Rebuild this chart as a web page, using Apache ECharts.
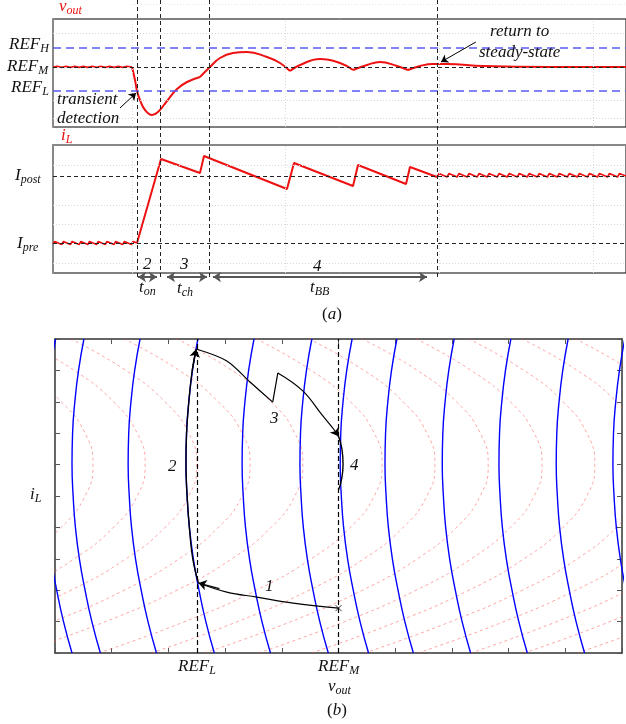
<!DOCTYPE html>
<html>
<head>
<meta charset="utf-8">
<script src="https://cdn.jsdelivr.net/npm/echarts@6/dist/echarts.min.js"></script>
<style>
  html, body { margin: 0; padding: 0; background: #fff; }
  #chart { width: 626px; height: 724px; }
</style>
</head>
<body>
<div id="chart"></div>
<script>
// ---------- (a) time-domain waveforms, time axis 0..100 ----------
// event times: transient detection, end of t_on, end of t_ch, back to steady state
const tEvents = [14.66, 18.67, 27.2, 67.0];
const tGrid = [13.8, 40.5, 67.4, 94.2];
const vGrid = [9, 27, 94];
const iGrid = [10, 49, 68, 108];
const refH = 79, refM = 60, refL = 36;
const iPostLevel = 97, iPreLevel = 30;

// v_out pieces (split at the cusps)
const vPre = [[0, 60], [0.76, 60.7], [1.52, 59.6], [2.28, 60.7], [3.04, 59.6], [3.8, 60.7], [4.56, 59.6],
  [5.32, 60.7], [6.08, 59.6], [6.84, 60.7], [7.6, 59.6], [8.36, 60.7], [9.12, 59.6], [9.88, 60.7],
  [10.64, 59.6], [11.4, 60.7], [12.16, 59.6], [12.92, 60.7], [13.79, 60]];
const vDip = [[13.79, 60], [14.31, 47], [14.66, 36], [15.18, 27], [16.06, 17], [17.28, 12], [18.32, 15],
  [19.9, 26], [21.64, 38], [23.39, 45], [25.65, 50]];
const vHump1 = [[25.65, 50], [27.4, 60], [29.14, 69], [31.41, 74], [33.86, 75], [37.35, 70], [39.62, 64], [41.36, 56]];
const vHump2 = [[41.36, 56], [43.1, 62], [46.6, 68], [50.09, 64], [52.36, 57]];
const vHump3 = [[52.36, 57], [54.8, 62], [57.07, 65], [60.03, 61], [61.95, 57]];
const vTail = [[61.95, 57], [64.05, 61], [66.32, 63], [68.76, 63], [75.04, 61], [86.74, 60], [100, 60]];

// inductor current pieces
const iPre = [[0, 29], [0.3, 31.5], [1.52, 28.5], [1.82, 31.5], [3.04, 28.5], [3.34, 31.5], [4.56, 28.5],
  [4.86, 31.5], [6.08, 28.5], [6.38, 31.5], [7.6, 28.5], [7.9, 31.5], [9.12, 28.5], [9.42, 31.5],
  [10.64, 28.5], [10.94, 31.5], [12.16, 28.5], [12.46, 31.5], [13.68, 28.5], [13.98, 31.5], [14.66, 30]];
const iMain = [[14.66, 30], [18.85, 114], [25.65, 100], [26.35, 117], [40.84, 84], [42.06, 110],
  [52.36, 87], [53.23, 108], [61.61, 89], [62.3, 106], [67.02, 96]];
const iPost = [[67.02, 96], [67.37, 99.5], [68.77, 96], [69.12, 99.5], [70.52, 96], [70.87, 99.5],
  [72.27, 96], [72.62, 99.5], [74.02, 96], [74.37, 99.5], [75.77, 96], [76.12, 99.5], [77.52, 96],
  [77.87, 99.5], [79.27, 96], [79.62, 99.5], [81.02, 96], [81.37, 99.5], [82.77, 96], [83.12, 99.5],
  [84.52, 96], [84.87, 99.5], [86.27, 96], [86.62, 99.5], [88.02, 96], [88.37, 99.5], [89.77, 96],
  [90.12, 99.5], [91.52, 96], [91.87, 99.5], [93.27, 96], [93.62, 99.5], [95.02, 96], [95.37, 99.5],
  [96.77, 96], [97.12, 99.5], [98.52, 96], [98.87, 99.5], [100, 97]];

// interval arrows under the i_L plot
const spanOn = [14.83, 18.15];
const spanCh = [19.9, 26.88];
const spanBB = [27.92, 65.27];

// ---------- (b) phase plane, both axes 0..10 ----------
const refLx = 2.5, refMx = 5.0;
const shapeY = [0, 1, 2, 3, 4, 5, 6, 7, 8, 9, 10];
const blueVertex = [-0.2, 0.3, 1.29, 2.31, 3.3, 4.32, 5.03, 5.82, 6.83, 7.83, 8.84, 9.84];
const blueDx = [0.5, 0.35, 0.23, 0.13, 0.06, 0.02, 0, 0.01, 0.05, 0.115, 0.21];
const redVertex = [0.67, 1.59, 2.5, 3.44, 4.37, 5.77, 6.7, 7.64, 8.59, 9.52, 10.46, 11.4, 12.33, 13.27, 14.21];
const redDx = [5.0, 3.48, 2.22, 1.25, 0.56, 0.14, 0, 0.14, 0.56, 1.25, 2.22];

const traj1 = [[5.0, 1.43], [4.2, 1.59], [3.56, 1.78], [3.03, 1.94], [2.53, 2.23]];
const traj2 = [[2.53, 2.23], [2.43, 3], [2.37, 4], [2.33, 5], [2.31, 6], [2.32, 7], [2.36, 8], [2.42, 9], [2.49, 9.68]];
const traj3a = [[2.49, 9.68], [3.03, 9.3], [3.44, 8.63], [3.84, 7.99]];
const traj3b = [[3.84, 7.99], [3.93, 8.92]];
const traj3c = [[3.93, 8.92], [4.37, 8.35], [4.71, 7.58], [4.94, 7.07], [5.0, 6.9]];
const traj4 = [[5.0, 6.9], [5.06, 6.5], [5.08, 6.0], [5.05, 5.5], [5.0, 5.2]];
const startPoint = [5.0, 1.43];

// ---------- styles ----------
const RED = '#ee1111';
const FONT = '"Liberation Serif", "DejaVu Serif", serif';
const dotted = { color: '#d8d8d8', width: 1, type: [1, 2] };
const blackDash = { color: '#222', width: 1, type: [4, 3] };
const blueDash = { color: '#5a5af5', width: 1.5, type: [8, 5] };
const noAxis = { show: false };

function guideSeries(xi, yi, lines, z) {
  return {
    type: 'line', xAxisIndex: xi, yAxisIndex: yi, data: [], silent: true, z: z || 1,
    markLine: { silent: true, symbol: ['none', 'none'], label: { show: false }, animation: false, data: lines }
  };
}
function curve(xi, yi, data, color, width, smooth, z) {
  return {
    type: 'line', xAxisIndex: xi, yAxisIndex: yi, data: data, symbol: 'none', smooth: smooth,
    silent: true, z: z || 3, lineStyle: { color: color, width: width }
  };
}
function arrows(xi, yi, segs, sym, color, width, size) {
  return {
    type: 'lines', coordinateSystem: 'cartesian2d', xAxisIndex: xi, yAxisIndex: yi, silent: true, z: 6,
    symbol: sym, symbolSize: size,
    lineStyle: { color: color, width: width, opacity: 1 },
    data: segs.map(s => ({ coords: s }))
  };
}

const series = [];

// (a) top plot: grid + reference levels
series.push(guideSeries(0, 0, [
  ...tGrid.map(t => ({ xAxis: t, lineStyle: dotted })),
  ...vGrid.map(v => ({ yAxis: v, lineStyle: dotted })),
  { yAxis: refH, lineStyle: blueDash },
  { yAxis: refM, lineStyle: blackDash },
  { yAxis: refL, lineStyle: blueDash }
]));
series.push(curve(0, 0, vPre, RED, 1.6, false));
[vDip, vHump1, vHump2, vHump3, vTail].forEach(d => series.push(curve(0, 0, d, RED, 2, 0.45)));

// (a) bottom plot
series.push(guideSeries(1, 1, [
  ...tGrid.map(t => ({ xAxis: t, lineStyle: dotted })),
  ...iGrid.map(v => ({ yAxis: v, lineStyle: dotted })),
  { yAxis: iPostLevel, lineStyle: blackDash },
  { yAxis: iPreLevel, lineStyle: blackDash }
]));
series.push(curve(1, 1, iPre, RED, 1.6, false));
series.push(curve(1, 1, iMain, RED, 2, false));
series.push(curve(1, 1, iPost, RED, 1.6, false));

// (a) overlay: event lines and annotation arrows (y in pixels)
series.push(guideSeries(4, 4, [
  ...tEvents.map(t => [{ coord: [t, 0], lineStyle: blackDash }, { coord: [t, 278] }]),
  [{ coord: [13.8, 4], lineStyle: { color: '#e6e6e6', width: 1, type: [1, 2] } }, { coord: [100, 4] }]
], 5));
series.push(arrows(4, 4, [
  [[spanOn[0], 277], [spanOn[1], 277]],
  [[spanCh[0], 277], [spanCh[1], 277]],
  [[spanBB[0], 277], [spanBB[1], 277]]
], ['arrow', 'arrow'], '#555', 2, 8));
series.push(arrows(4, 4, [
  [[11.69, 108], [14.49, 93]],
  [[73.8, 42], [67.71, 62]]
], ['none', 'arrow'], '#000', 1, 7));

// (b) phase plane
redVertex.forEach(v => series.push({
  type: 'line', xAxisIndex: 2, yAxisIndex: 2, symbol: 'none', smooth: true, silent: true, z: 1,
  data: shapeY.map((y, i) => [v - redDx[i], y]),
  lineStyle: { color: 'rgba(255,80,80,0.5)', width: 1, type: [3, 3] }
}));
blueVertex.forEach(v => series.push({
  type: 'line', xAxisIndex: 2, yAxisIndex: 2, symbol: 'none', smooth: true, silent: true, z: 2,
  data: shapeY.map((y, i) => [v + blueDx[i], y]),
  lineStyle: { color: '#0000ff', width: 1.4 }
}));
series.push(guideSeries(2, 2, [
  { xAxis: refLx, lineStyle: { color: '#000', width: 1.2, type: [5, 3] } },
  { xAxis: refMx, lineStyle: { color: '#000', width: 1.2, type: [5, 3] } }
], 3));
series.push(curve(2, 2, traj1, '#000', 1.2, 0.4, 5));
series.push(curve(2, 2, traj2, '#000', 1.4, 0.4, 5));
series.push(curve(2, 2, traj3a, '#000', 1.2, 0.3, 5));
series.push(curve(2, 2, traj3b, '#000', 1.2, false, 5));
series.push(curve(2, 2, traj3c, '#000', 1.2, 0.4, 5));
series.push(curve(2, 2, traj4, '#000', 1.4, 0.5, 5));
series.push(arrows(2, 2, [
  [traj2[traj2.length - 2], traj2[traj2.length - 1]],
  [[2.9, 2.05], traj1[traj1.length - 1]],
  [traj3c[traj3c.length - 2], traj3c[traj3c.length - 1]]
], ['none', 'arrow'], '#000', 1.2, 8));
series.push({
  type: 'scatter', xAxisIndex: 2, yAxisIndex: 2, data: [startPoint], silent: true, z: 6,
  symbol: 'path://M0,0L10,10M10,0L0,10', symbolSize: 6,
  itemStyle: { color: 'none', borderColor: '#000', borderWidth: 1 }
});

// ---------- text ----------
function rich(color) {
  return {
    m: { fontFamily: FONT, fontStyle: 'italic', fontSize: 17, lineHeight: 20, fill: color },
    s: { fontFamily: FONT, fontStyle: 'italic', fontSize: 12, lineHeight: 12, verticalAlign: 'bottom', fill: color },
    r: { fontFamily: FONT, fontSize: 17, lineHeight: 20, fill: color }
  };
}
function txt(x, y, text, color) {
  color = color || '#111';
  return {
    type: 'text', x: x, y: y, silent: true, z: 100,
    style: { text: text, rich: rich(color), fill: color, align: 'left', verticalAlign: 'middle',
      font: 'italic 17px ' + FONT }
  };
}
const texts = [
  txt(59, 7, '{m|v}{s|out}', RED),
  txt(9, 45, '{m|REF}{s|H}'),
  txt(7, 67, '{m|REF}{s|M}'),
  txt(11, 88, '{m|REF}{s|L}'),
  txt(57, 100, '{m|transient}'),
  txt(57, 119, '{m|detection}'),
  txt(490, 32, '{m|return to}'),
  txt(479, 53, '{m|steady-state}'),
  txt(61, 136, '{m|i}{s|L}', RED),
  txt(15, 176, '{m|I}{s|post}'),
  txt(17, 244, '{m|I}{s|pre}'),
  txt(143, 265, '{m|2}'),
  txt(180, 265, '{m|3}'),
  txt(313, 267, '{m|4}'),
  txt(139, 288, '{m|t}{s|on}'),
  txt(177, 289, '{m|t}{s|ch}'),
  txt(310, 288, '{m|t}{s|BB}'),
  txt(322, 315, '{r|(}{m|a}{r|)}'),
  txt(178, 667, '{m|REF}{s|L}'),
  txt(318, 667, '{m|REF}{s|M}'),
  txt(328, 687, '{m|v}{s|out}'),
  txt(327, 711, '{r|(}{m|b}{r|)}'),
  txt(30, 495, '{m|i}{s|L}'),
  txt(265, 587, '{m|1}'),
  txt(168, 467, '{m|2}'),
  txt(270, 419, '{m|3}'),
  txt(350, 466, '{m|4}')
];

// ---------- axes ----------
const frameLine = { show: true, onZero: false, lineStyle: { color: '#333', width: 1.5 } };
const insideTick = { show: true, inside: true, length: 5, lineStyle: { color: '#555', width: 1 } };
const phaseX = { gridIndex: 2, type: 'value', min: 0, max: 10, interval: 1, axisLine: frameLine,
  axisTick: insideTick, axisLabel: { show: false }, splitLine: { show: false } };
const phaseY = { gridIndex: 2, type: 'value', min: 0, max: 10, interval: 1, axisLine: frameLine,
  axisTick: insideTick, axisLabel: { show: false }, splitLine: { show: false } };
const grayEdge = { show: true, onZero: false, lineStyle: { color: '#888', width: 2 } };

const option = {
  animation: false,
  backgroundColor: '#fff',
  grid: [
    { left: 53, top: 19, width: 573, height: 108, show: true, borderColor: '#000', borderWidth: 1 },
    { left: 53, top: 145, width: 573, height: 128, show: true, borderColor: '#000', borderWidth: 1 },
    { left: 55, top: 339, width: 567, height: 314 },
    { left: 53, top: 0, width: 573, height: 300 }
  ],
  xAxis: [
    { gridIndex: 0, type: 'value', min: 0, max: 100, show: false },
    { gridIndex: 1, type: 'value', min: 0, max: 100, show: false },
    phaseX,
    Object.assign({}, phaseX, { position: 'top' }),
    { gridIndex: 3, type: 'value', min: 0, max: 100, show: false },
    { gridIndex: 1, type: 'value', min: 0, max: 100, position: 'top', axisLine: grayEdge,
      axisTick: noAxis, axisLabel: noAxis, splitLine: noAxis }
  ],
  yAxis: [
    { gridIndex: 0, type: 'value', min: 0, max: 108, axisLine: grayEdge, axisTick: noAxis, axisLabel: noAxis, splitLine: noAxis },
    { gridIndex: 1, type: 'value', min: 0, max: 128, axisLine: grayEdge, axisTick: noAxis, axisLabel: noAxis, splitLine: noAxis },
    phaseY,
    Object.assign({}, phaseY, { position: 'right' }),
    { gridIndex: 3, type: 'value', min: 0, max: 300, inverse: true, show: false }
  ],
  series: series,
  graphic: { elements: texts }
};

const chart = echarts.init(document.getElementById('chart'));
chart.setOption(option);
</script>
</body>
</html>
